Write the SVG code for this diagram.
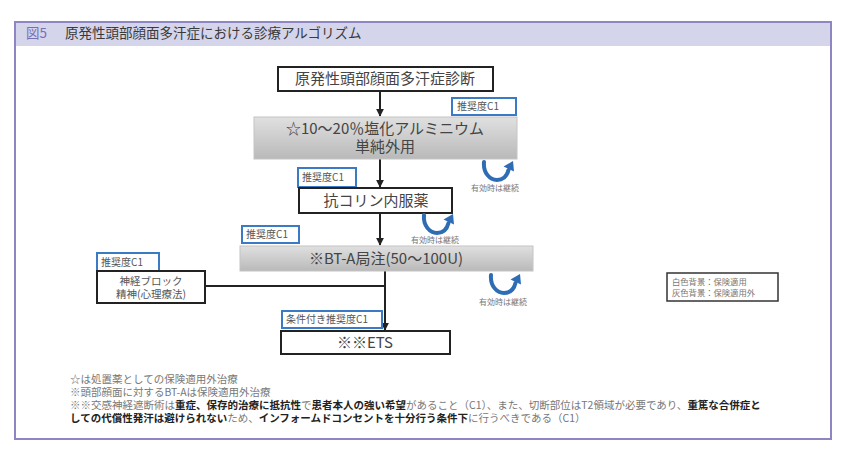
<svg xmlns="http://www.w3.org/2000/svg" xmlns:xlink="http://www.w3.org/1999/xlink" width="850" height="456" viewBox="0 0 850 456">
<style>
text{font-family:"Noto Sans CJK JP","Noto Sans",sans-serif;}
.box{fill:#fff;stroke:#222;stroke-width:2;}
.gbox{fill:url(#gg);stroke:#c4c4c4;stroke-width:1;}
.lbl{fill:#fff;stroke:#3b7bc6;stroke-width:2;}
.lt{font-size:10px;fill:#555;}
.mt{font-size:15px;fill:#444;text-anchor:middle;}
.st{font-size:10.5px;fill:#555;text-anchor:middle;}
.eff{font-size:8px;fill:#777;text-anchor:middle;}
.fn{font-size:10.5px;fill:#777;}
.b{font-weight:bold;fill:#222;}
.ln{stroke:#222;stroke-width:2;fill:none;}
</style>
<defs>
<linearGradient id="gg" x1="0" y1="0" x2="0" y2="1">
<stop offset="0" stop-color="#e0e0e0"/>
<stop offset="1" stop-color="#b9b9b9"/>
</linearGradient>
<marker id="ah" viewBox="0 0 10 10" refX="9" refY="5" markerWidth="4" markerHeight="4" orient="auto">
<path d="M0,0 L10,5 L0,10 z" fill="#222"/>
</marker>
<g id="curl">
<path d="M3,1 C2,12 9,19 16,19 C22,19 26,15 27.5,9" fill="none" stroke="#2e6db4" stroke-width="4" stroke-linecap="round"/>
<path d="M32,0 L22.5,5.5 L33,10.5 z" fill="#2e6db4"/>
</g>
</defs>
<rect x="0" y="0" width="850" height="456" fill="#fff"/>
<g id="frame">
<rect x="15" y="22" width="816" height="24" fill="#d4d4eb"/>
<rect x="15" y="22" width="816" height="417" fill="none" stroke="#8d86c3" stroke-width="2"/>
<text x="26" y="38" font-size="13.5" fill="#7a6fb5">図5</text>
<text x="65" y="38" font-size="13.5" fill="#3a3a3a">原発性頭部顔面多汗症における診療アルゴリズム</text>
</g>
<g id="connectors">
<line class="ln" x1="380" y1="91" x2="380" y2="116" marker-end="url(#ah)"/>
<line class="ln" x1="380" y1="159" x2="380" y2="187" marker-end="url(#ah)"/>
<line class="ln" x1="380" y1="213" x2="380" y2="245" marker-end="url(#ah)"/>
<line class="ln" x1="385" y1="271" x2="385" y2="330" marker-end="url(#ah)"/>
<line class="ln" x1="205" y1="286" x2="385" y2="286"/>
</g>
<g id="n-diag">
<rect class="box" x="278" y="67" width="215" height="24"/>
<text class="mt" x="385" y="84">原発性頭部顔面多汗症診断</text>
</g>
<g id="l1">
<rect class="lbl" x="452" y="98" width="64" height="17"/>
<text class="lt" x="457" y="110">推奨度C1</text>
</g>
<g id="n-al">
<rect class="gbox" x="254" y="117" width="263" height="42"/>
<text class="mt" x="385" y="134">☆10〜20％塩化アルミニウム</text>
<text class="mt" x="385" y="152">単純外用</text>
</g>
<g id="e1">
<use xlink:href="#curl" x="481" y="161"/>
<text class="eff" x="495" y="191">有効時は継続</text>
</g>
<g id="l2">
<rect class="lbl" x="298" y="168" width="58" height="19"/>
<text class="lt" x="302" y="181">推奨度C1</text>
</g>
<g id="n-ac">
<rect class="box" x="299" y="188" width="153" height="25"/>
<text class="mt" x="376" y="206">抗コリン内服薬</text>
</g>
<g id="e2">
<use xlink:href="#curl" x="421" y="214"/>
<text class="eff" x="435" y="243">有効時は継続</text>
</g>
<g id="l3">
<rect class="lbl" x="242" y="226" width="57" height="17"/>
<text class="lt" x="246" y="238">推奨度C1</text>
</g>
<g id="n-bt">
<rect class="gbox" x="240" y="246" width="293" height="25"/>
<text class="mt" x="386" y="264">※BT-A局注(50〜100U)</text>
</g>
<g id="e3">
<use xlink:href="#curl" x="488" y="274"/>
<text class="eff" x="503" y="305">有効時は継続</text>
</g>
<g id="l4">
<rect class="lbl" x="97" y="253" width="62" height="19"/>
<text class="lt" x="101" y="266">推奨度C1</text>
</g>
<g id="n-nb">
<rect class="box" x="97" y="271" width="108" height="32"/>
<text class="st" x="151" y="285">神経ブロック</text>
<text class="st" x="151" y="298">精神(心理療法)</text>
</g>
<g id="l5">
<rect class="lbl" x="282" y="311" width="100" height="17"/>
<text class="lt" x="286" y="323">条件付き推奨度C1</text>
</g>
<g id="n-ets">
<rect class="box" x="281" y="331" width="169" height="23"/>
<text class="mt" x="365" y="348">※※ETS</text>
</g>
<g id="legend">
<rect x="667" y="273" width="111" height="28" fill="#fff" stroke="#333" stroke-width="1.5"/>
<text x="672" y="285" font-size="8.3" fill="#777">白色背景：保険適用</text>
<text x="672" y="296" font-size="8.3" fill="#777">灰色背景：保険適用外</text>
</g>
<g id="notes">
<text class="fn" x="70" y="383">☆は処置薬としての保険適用外治療</text>
<text class="fn" x="70" y="396">※頭部顔面に対するBT-Aは保険適用外治療</text>
<text class="fn" x="70" y="409">※※交感神経遮断術は<tspan class="b">重症、保存的治療に抵抗性</tspan>で<tspan class="b">患者本人の強い希望</tspan>があること（C1）、また、切断部位はT2領域が必要であり、<tspan class="b">重篤な合併症と</tspan></text>
<text class="fn" x="70" y="422"><tspan class="b">しての代償性発汗は避けられない</tspan>ため、<tspan class="b">インフォームドコンセントを十分行う条件下</tspan>に行うべきである（C1）</text>
</g>
</svg>
